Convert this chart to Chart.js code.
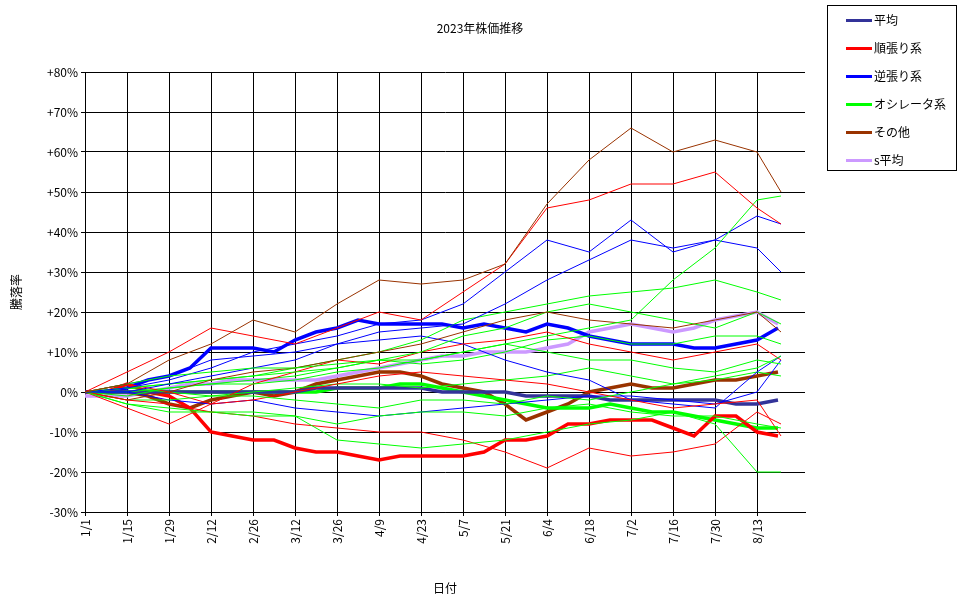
<!DOCTYPE html>
<html><head><meta charset="utf-8">
<script src="https://cdn.jsdelivr.net/npm/chart.js@4"></script>
<style>
body{margin:0;background:#fff;font-family:"Noto Sans CJK JP",sans-serif;}
#wrap{position:relative;width:970px;height:604px;}
#legend{position:absolute;left:827px;top:5px;width:130px;height:166px;border:1px solid #000;box-sizing:border-box;font-size:12px;}
#legend div{position:relative;height:28px;line-height:28px;padding-left:46px;}
#legend span{position:absolute;left:18px;top:13px;width:26px;height:3px;}
</style></head><body>
<div id="wrap"><canvas id="c" width="970" height="604"></canvas>
<div id="legend"></div></div>
<script>
// ─── Data ───
const weekDays = [0,7,14,21,28,35,42,49,56,63,70,77,84,91,98,105,112,119,126,133,140,147,154,161,168,175,182,189,196,203,210,217,224,231];
const thinDays = [0,14,28,42,56,70,84,98,112,126,140,154,168,182,196,210,224,232];
const xTicks = [0,14,28,42,56,70,84,98,112,126,140,154,168,182,196,210,224];

const heikin   = [0,0,0,0,0,0,0,0,0,0,0,1,1,1,1,1,1,0,0,0,0,-1,-1,-1,-1,-2,-2,-2,-2,-2,-2,-3,-3,-2];
const junbari  = [0,0,2,0,-1,-4,-10,-11,-12,-12,-14,-15,-15,-16,-17,-16,-16,-16,-16,-15,-12,-12,-11,-8,-8,-7,-7,-7,-9,-11,-6,-6,-10,-11];
const gyakubari= [0,0,1,3,4,6,11,11,11,10,13,15,16,18,17,17,17,17,16,17,16,15,17,16,14,13,12,12,12,11,11,12,13,16];
const oscil    = [0,0,0,0,0,0,0,0,0,0,0,0,1,1,1,2,2,1,0,-1,-2,-3,-4,-4,-4,-3,-4,-5,-5,-6,-7,-8,-9,-9];
const sonota   = [0,0,0,-1,-3,-4,-2,-1,0,-1,0,2,3,4,5,5,4,2,1,0,-3,-7,-5,-3,0,1,2,1,1,2,3,3,4,5];
const sHeikin  = [-1,-1,-1,0,1,2,2,3,3,3,3,3,4,5,6,7,8,9,9,10,10,10,11,12,15,16,17,16,15,16,18,19,20,17];

const thinLines = [
  ['#993300',[0,2,8,12,18,15,22,28,27,28,32,47,58,66,60,63,60,50]],
  ['#ff0000',[0,5,10,16,14,12,16,20,18,25,32,46,48,52,52,55,46,42]],
  ['#00ff00',[0,2,4,5,6,6,7,8,8,10,12,14,16,18,28,36,48,49]],
  ['#0000ff',[0,1,3,6,10,12,14,17,18,22,30,38,35,43,35,38,44,42]],
  ['#0000ff',[0,0,2,4,6,8,12,15,16,17,22,28,33,38,36,38,36,30]],
  ['#00ff00',[0,-3,-5,-5,-6,-6,-12,-13,-14,-13,-12,-10,-8,-7,-5,-8,-20,-20]],
  ['#ff0000',[0,-2,-3,-5,-6,-8,-9,-10,-10,-12,-15,-19,-14,-16,-15,-13,-5,-8]],
  ['#993300',[0,-2,0,3,5,6,8,10,12,15,18,20,18,17,16,18,20,15]],
  ['#00ff00',[0,1,2,3,4,6,8,10,13,18,20,22,24,25,26,28,25,23]],
  ['#00ff00',[0,1,2,3,4,5,6,8,10,14,16,20,22,20,18,16,20,17]],
  ['#00ff00',[0,-1,1,2,2,3,5,6,8,10,12,10,8,8,6,5,8,7]],
  ['#00ff00',[0,-2,-2,-1,-1,-2,-3,-4,-2,-2,-3,-1,-2,0,2,4,6,9]],
  ['#00ff00',[0,-3,-4,-5,-5,-6,-8,-6,-5,-5,-6,-4,-3,-5,-6,-6,-8,-9]],
  ['#ff0000',[0,-4,-8,-3,2,5,8,7,10,12,13,15,12,10,8,10,12,8]],
  ['#ff0000',[0,2,0,-3,-2,0,2,4,5,4,3,2,0,-2,-4,-3,-2,-11]],
  ['#0000ff',[0,0,-2,-3,-2,-4,-5,-6,-5,-4,-3,-2,-1,-1,-2,-3,0,8]],
  ['#0000ff',[0,2,4,8,9,10,12,13,14,12,8,5,3,-2,-3,-4,5,9]],
  ['#00ff00',[0,0,1,2,3,4,6,8,7,8,10,13,14,12,12,14,14,12]],
  ['#00ff00',[0,1,0,-1,0,1,2,2,1,2,3,4,6,4,2,3,5,4]]
];

const thick = [
  ['平均','#333399',heikin],
  ['順張り系','#ff0000',junbari],
  ['逆張り系','#0000ff',gyakubari],
  ['オシレータ系','#00ff00',oscil],
  ['その他','#993300',sonota],
  ['s平均','#cc99ff',sHeikin]
];

// ─── Helpers ───
const FONT = '"Noto Sans CJK JP", sans-serif';
function dayLabel(d) { const t = new Date(2023,0,1+d); return (t.getMonth()+1)+'/'+t.getDate(); }
function pts(days, vals) { return vals.map((v,i) => ({x:days[i], y:v})); }

const datasets = [];
thinLines.forEach(([c,v]) => datasets.push({data:pts(thinDays,v), borderColor:c, borderWidth:1, pointRadius:0, tension:0}));
thick.forEach(([n,c,v]) => datasets.push({label:n, data:pts(weekDays,v), borderColor:c, borderWidth:3.5, pointRadius:0, tension:0}));

document.getElementById('legend').innerHTML = thick.map(([n,c]) => `<div><span style="background:${c}"></span>${n}</div>`).join('');

const titles = {
  id:'titles',
  afterDraw(ch) {
    const x = ch.ctx; x.save(); x.fillStyle='#000'; x.font='12px '+FONT; x.textAlign='center'; x.textBaseline='middle';
    x.fillText('2023年株価推移', 480, 28);
    x.fillText('日付', 445, 588);
    x.translate(16, 292); x.rotate(-Math.PI/2); x.fillText('騰落率', 0, 0);
    x.restore();
  }
};

new Chart(document.getElementById('c'), {
  type:'line',
  data:{datasets},
  plugins:[titles],
  options:{
    responsive:false, animation:false,
    layout:{padding:{top:72,right:165,left:0,bottom:0}},
    plugins:{legend:{display:false}, tooltip:{enabled:false}},
    scales:{
      x:{type:'linear', min:0, max:240,
        afterBuildTicks: s => { s.ticks = xTicks.map(v => ({value:v})); },
        afterFit: s => { s.height = 92; },
        grid:{color:'#000', lineWidth:1, drawTicks:true, tickLength:4},
        border:{color:'#000'},
        ticks:{color:'#000', font:{family:FONT, size:12}, minRotation:90, maxRotation:90, callback:v => dayLabel(v)}},
      y:{min:-30, max:80,
        afterFit: s => { s.width = 85; },
        grid:{color:'#000', lineWidth:1, tickLength:4},
        border:{color:'#000'},
        ticks:{stepSize:10, color:'#000', font:{family:FONT, size:12}, callback:v => (v>0?'+':'')+v+'%'}}
    }
  }
});
</script></body></html>
